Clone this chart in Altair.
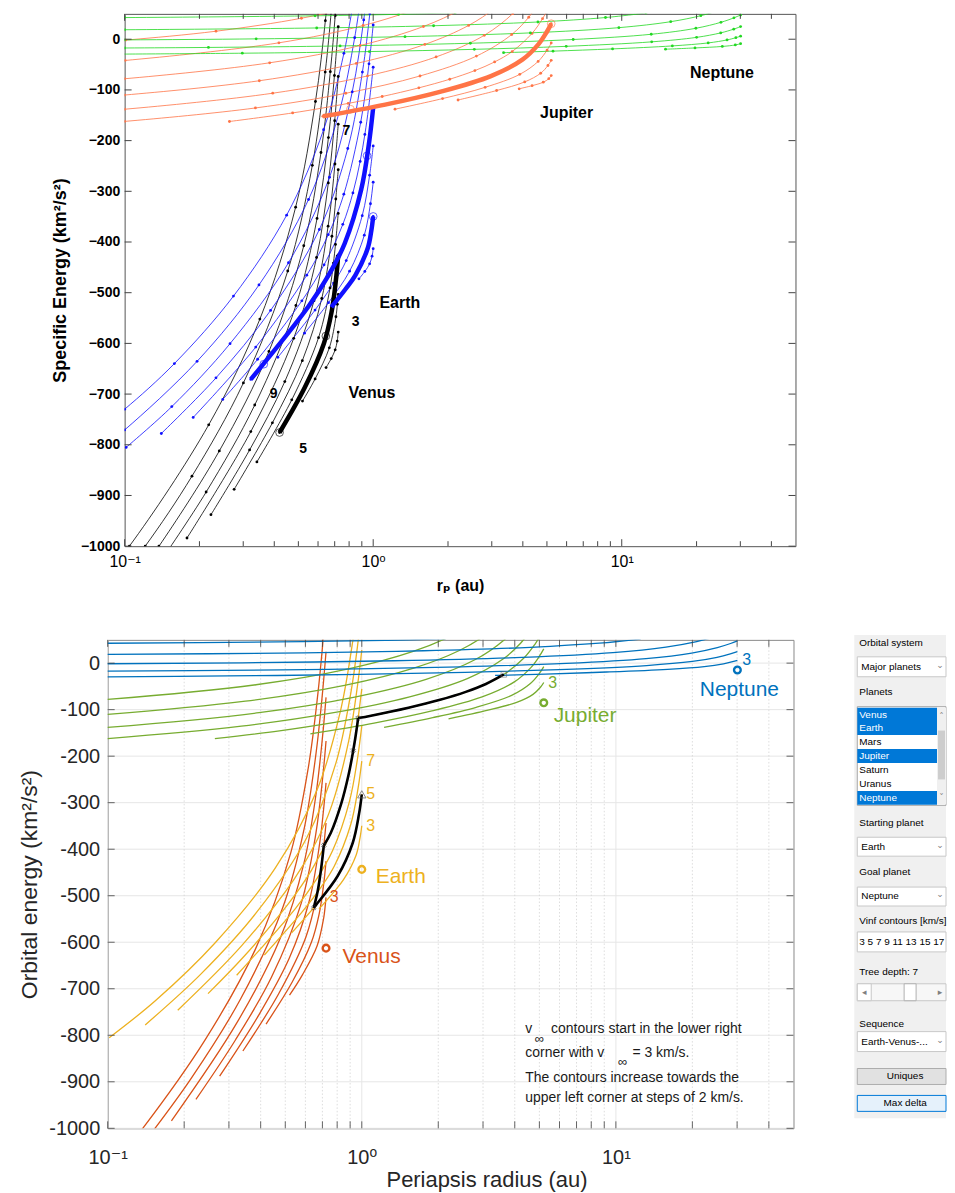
import altair as alt
import pandas as pd

PLANETS = ["Venus", "Earth", "Jupiter", "Neptune"]

# (periapsis radius [au], orbital energy [km^2/s^2]) along each v-infinity contour, keyed by v_inf [km/s]
VENUS = {
    1: [[0.7233, -577.7], [0.7166, -595.5], [0.7032, -612.7], [0.678, -629.9], [0.6462, -647.7]],
    3: [[0.7233, -503.6], [0.7175, -522.8], [0.7083, -547.4], [0.6662, -608.7], [0.584, -670.0], [0.5195, -713.8]],
    5: [[0.7233, -425.6], [0.707, -478.1], [0.6794, -539.4], [0.6329, -600.7], [0.5311, -686.6], [0.4201, -775.8]],
    7: [[0.7233, -343.6], [0.7052, -404.7], [0.692, -441.5], [0.6704, -490.6], [0.6028, -588.7], [0.4703, -711.3], [0.3405, -833.8]],
    9: [[0.7233, -257.5], [0.7072, -315.2], [0.6823, -388.7], [0.6211, -511.4], [0.5187, -634.0], [0.3931, -756.7], [0.2758, -887.9]],
    11: [[0.7233, -167.5], [0.7017, -246.1], [0.6586, -368.7], [0.5779, -515.9], [0.441, -675.3], [0.3182, -810.2], [0.2225, -937.9]],
    13: [[0.7233, -73.5], [0.7, -160.8], [0.6599, -283.4], [0.5919, -430.6], [0.479, -590.0], [0.3218, -774.0], [0.1782, -983.9]],
    15: [[0.7233, 24.6], [0.6984, -71.5], [0.6606, -194.1], [0.5945, -353.5], [0.4888, -525.2], [0.3338, -721.5], [0.2128, -893.2], [0.1413, -1026.0]],
    17: [[0.7233, 126.6], [0.7034, 46.4], [0.6723, -64.0], [0.6165, -223.4], [0.5256, -407.4], [0.3807, -615.9], [0.2404, -812.1], [0.1374, -1000.2], [0.1104, -1064.0]],
    19: [[0.7233, 232.6], [0.7109, 180.5], [0.6788, 57.8], [0.6412, -64.8], [0.5691, -248.8], [0.4532, -457.2], [0.3005, -678.0], [0.1866, -861.9], [0.121, -1000.0], [0.0845, -1098.0]],
    21: [[0.7091, 281.9], [0.6779, 159.2], [0.6421, 36.6], [0.5858, -122.9], [0.4875, -331.3], [0.35, -552.1], [0.2179, -760.6], [0.1045, -1000.0], [0.0699, -1104.0]],
}
EARTH = {
    1: [[1.0, -413.2], [0.9897, -427.9], [0.9676, -443.0], [0.9256, -458.0], [0.8762, -472.7]],
    3: [[1.0, -349.6], [0.9833, -376.9], [0.9505, -412.3], [0.8474, -465.6], [0.7758, -492.2], [0.6788, -528.3]],
    5: [[1.0, -282.0], [0.9751, -324.5], [0.921, -386.6], [0.8036, -457.6], [0.661, -519.6], [0.5295, -579.9]],
    7: [[1.0, -210.5], [0.9675, -268.2], [0.9035, -348.0], [0.779, -436.7], [0.6927, -481.0], [0.5836, -534.2], [0.4136, -627.4]],
    9: [[1.0, -134.9], [0.9603, -207.8], [0.895, -296.5], [0.7679, -402.9], [0.6628, -465.0], [0.5488, -527.1], [0.3218, -671.0]],
    11: [[1.0, -55.3], [0.9587, -134.6], [0.9257, -187.8], [0.8863, -241.0], [0.8289, -303.1], [0.7548, -365.2], [0.6344, -445.0], [0.5164, -516.0], [0.3429, -631.3], [0.2482, -710.5]],
    13: [[1.0, 28.2], [0.9619, -48.5], [0.8908, -163.8], [0.7619, -305.7], [0.6596, -385.6], [0.5405, -465.4], [0.3369, -607.3], [0.1887, -746.1]],
    15: [[1.0, 115.8], [0.9691, 50.4], [0.9049, -64.9], [0.7903, -215.6], [0.6073, -375.3], [0.3866, -534.9], [0.2331, -668.0], [0.1405, -777.7]],
    17: [[0.9713, 144.5], [0.9161, 38.1], [0.8236, -103.8], [0.6671, -272.3], [0.4563, -440.9], [0.2655, -600.5], [0.1548, -724.7], [0.1014, -805.2]],
    19: [[0.9067, 109.6], [0.8425, 3.1], [0.7263, -147.6], [0.5494, -316.2], [0.3471, -484.7], [0.1956, -635.4], [0.1, -770.7], [0.0777, -812.8]],
    21: [[0.8414, 87.5], [0.7624, -27.8], [0.6316, -178.6], [0.4485, -347.1], [0.2741, -506.7], [0.1586, -639.8], [0.1, -729.9], [0.0732, -781.7]],
}
JUPITER = {
    1: [[5.2026, -71.7], [5.087, -77.9], [4.833, -84.8], [4.358, -91.6], [3.867, -97.8]],
    3: [[5.2026, -41.6], [5.048, -51.8], [4.719, -67.1], [4.07, -84.2], [3.138, -101.2], [2.195, -119.9]],
    5: [[5.2026, -7.5], [5.007, -21.6], [4.609, -43.8], [3.888, -69.3], [2.82, -94.9], [1.902, -117.1], [1.224, -138.0]],
    7: [[5.2026, 30.6], [4.993, 14.3], [4.628, -9.6], [3.984, -40.3], [2.975, -72.7], [1.871, -103.4], [1.118, -129.0], [0.6276, -152.1]],
    9: [[5.2026, 72.8], [5.065, 60.9], [4.801, 40.5], [4.356, 11.5], [3.623, -24.3], [3.08, -44.8], [2.566, -61.8], [2.032, -78.9], [1.527, -95.9], [1.087, -113.0], [0.7931, -126.6], [0.4741, -145.4], [0.2641, -162.3]],
    11: [[4.928, 94.6], [4.602, 69.0], [4.225, 43.4], [3.609, 9.3], [2.602, -33.3], [1.543, -72.5], [0.7757, -106.6], [0.3359, -135.6], [0.1, -162.1], [0.0655, -168.3]],
    13: [[4.64, 118.6], [4.185, 84.5], [3.643, 50.4], [2.799, 7.7], [1.791, -34.9], [0.9485, -72.4], [0.3943, -106.5], [0.1, -138.1], [0.0591, -145.7]],
    15: [[3.659, 95.4], [3.087, 61.3], [2.421, 27.2], [1.613, -10.3], [0.8552, -47.8], [0.3483, -81.9], [0.1, -110.1], [0.059, -117.7]],
    17: [[2.876, 93.3], [2.26, 59.2], [1.593, 25.1], [0.886, -12.4], [0.3833, -46.5], [0.1, -78.0], [0.0589, -85.7]],
    19: [[2.119, 95.2], [1.508, 61.1], [0.911, 27.0], [0.4176, -7.1], [0.1004, -41.9], [0.0587, -49.7]],
    21: [[1.431, 101.1], [0.8782, 67.0], [0.5144, 41.4], [0.2331, 15.8], [0.101, -1.7], [0.0586, -9.8]],
}
NEPTUNE = {
    1: [[30.07, -8.8], [28.64, -11.3], [25.39, -14.25], [19.71, -17.2], [15.0, -19.7]],
    3: [[30.07, 6.05], [28.78, 3.03], [26.52, -1.4], [22.27, -7.3], [15.98, -13.2], [9.183, -19.1], [5.29, -23.5], [3.346, -26.5]],
    5: [[30.07, 24.9], [28.21, 19.9], [25.01, 12.5], [20.0, 3.66], [13.2, -5.19], [5.978, -14.04], [2.552, -19.94], [0.9653, -24.37], [0.2975, -27.6], [0.0946, -29.4]],
    7: [[30.07, 47.8], [28.27, 42.2], [25.07, 33.4], [19.87, 21.6], [13.14, 9.76], [6.378, -0.56], [2.46, -7.94], [0.7358, -13.25], [0.2174, -16.2], [0.1, -17.3], [0.0542, -17.97]],
    9: [[24.06, 55.3], [20.8, 46.4], [15.74, 34.6], [9.738, 22.8], [4.289, 12.5], [1.343, 5.12], [0.3382, 0.7], [0.1, -1.3], [0.0376, -2.25]],
    11: [[12.52, 51.7], [8.604, 42.8], [4.601, 34.0], [1.75, 26.6], [0.5926, 22.2], [0.1, 18.7], [0.0376, 17.8]],
    13: [[2.137, 52.1], [1.265, 49.1], [0.5837, 46.2], [0.1, 42.7], [0.0376, 41.8]],
}
TABLES = {"Venus": VENUS, "Earth": EARTH, "Jupiter": JUPITER, "Neptune": NEPTUNE}

TOP_VINF = [1, 3, 5, 7, 9, 11, 13, 15, 17, 19, 21]
BOTTOM_VINF = [3, 5, 7, 9, 11, 13, 15, 17]

TOP_COLORS = ["#000000", "#1010ff", "#ff7446", "#22d822"]
BOTTOM_COLORS = ["#d95319", "#edb120", "#77ac30", "#0072bd"]

# top panel: highlighted contours and markers
TOP_HIGHLIGHT = [("Venus", 5), ("Earth", 3), ("Earth", 9), ("Jupiter", 7)]
TOP_RING_PLANET = ["Venus", "Venus", "Earth", "Earth", "Earth", "Jupiter", "Jupiter"]
TOP_RING_RP = [0.4201, 0.645, 1.0, 0.945, 0.363, 5.2026, 0.81]
TOP_RING_E = [-775.8, -585.5, -349.6, -230.0, -641.0, 30.6, -138.0]
TOP_NUM_TEXT = ["7", "3", "9", "5"]
TOP_NUM_RP = [0.78, 0.85, 0.398, 0.522]
TOP_NUM_E = [-181, -558, -700, -808]
TOP_NAME_TEXT = ["Earth", "Venus", "Jupiter", "Neptune"]
TOP_NAME_RP = [1.28, 0.988, 6.0, 25.3]
TOP_NAME_E = [-521, -697, -145, -67]

# bottom panel: trajectory legs, markers and labels
PATH_LEGS = {
    "Earth v5": [[1.0, -282.0], [0.9751, -324.5], [0.921, -386.6], [0.8036, -457.6], [0.661, -519.6], [0.647, -526.0]],
    "Venus v7": [[0.647, -526.0], [0.6704, -490.6], [0.692, -441.5], [0.709, -392.0]],
    "Earth v11": [[0.709, -392.0], [0.7548, -365.2], [0.8289, -303.1], [0.8863, -241.0], [0.9257, -187.8], [0.9587, -134.6], [0.967, -118.1]],
    "Jupiter v9": [[0.967, -118.1], [1.087, -113.0], [1.527, -95.9], [2.032, -78.9], [2.566, -61.8], [3.08, -44.8], [3.623, -24.3]],
}
PATH_X_RP = [0.647, 0.709, 0.9257, 0.967]
PATH_X_E = [-526.0, -392.0, -187.8, -118.1]
PATH_START = [1.0, -282.0]
PATH_END = [3.623, -24.3]
PLANET_RP = [0.7233, 1.0, 5.2026, 30.07]
PLANET_E = [-612.7, -443.4, -85.3, -14.75]
NAME_RP = [0.84, 1.135, 5.69, 21.4]
NAME_E = [-631, -460, -114, -57]
NUM_PLANET = ["Venus", "Earth", "Earth", "Earth", "Jupiter", "Neptune"]
NUM_TEXT = ["3", "7", "5", "3", "3", "3"]
NUM_RP = [0.778, 1.085, 1.085, 1.085, 5.64, 32.7]
NUM_E = [-503, -211, -282, -350, -42, 7]
NOTE_LEFT_TEXT = ["v", "contours start in the lower right", "corner with v", "= 3 km/s.",
                  "The contours increase towards the", "upper left corner at steps of 2 km/s."]
NOTE_LEFT_RP = [4.4, 5.56, 4.4, 11.62, 4.4, 4.4]
NOTE_LEFT_E = [-786, -786, -839, -839, -892, -935]
NOTE_INF_RP = [5.0, 10.63]
NOTE_INF_E = [-807, -858]

MAJOR_X = [0.1, 1, 10]
MINOR_X = [0.2, 0.3, 0.4, 0.5, 0.6, 0.7, 0.8, 0.9, 2, 3, 4, 5, 6, 7, 8, 9, 20, 30, 40]
Y_TICKS = [-1000, -900, -800, -700, -600, -500, -400, -300, -200, -100, 0]

FONT = "Liberation Sans, DejaVu Sans"


def contour_rows(vinfs, field):
    rows = []
    for planet in PLANETS:
        for v in vinfs:
            for i, (rp, e) in enumerate(TABLES[planet].get(v, [])):
                rows.append({field: planet, "key": f"{planet}{v}", "order": i, "rp": rp, "E": e})
    return pd.DataFrame(rows)


XS = alt.Scale(type="log", domain=[0.1, 50], nice=False)
YS = alt.Scale(domain=[-1000, 50], nice=False, zero=False)
LABEL_EXPR = "datum.value < 0.5 ? '10⁻¹' : (datum.value < 5 ? '10⁰' : '10¹')"


def tick_layers(X, Y, W, H, color, major_len, minor_len, width):
    layers = []
    for vals, ln in [(MAJOR_X, major_len), (MINOR_X, minor_len)]:
        d = alt.Chart(pd.DataFrame({"rp": vals}))
        layers.append(d.mark_rule(color=color, strokeWidth=width).encode(
            x=X, y=alt.value(H), y2=alt.value(H - ln)))
        layers.append(d.mark_rule(color=color, strokeWidth=width).encode(
            x=X, y=alt.value(0), y2=alt.value(ln)))
    d = alt.Chart(pd.DataFrame({"E": Y_TICKS}))
    layers.append(d.mark_rule(color=color, strokeWidth=width).encode(
        y=Y, x=alt.value(0), x2=alt.value(major_len)))
    layers.append(d.mark_rule(color=color, strokeWidth=width).encode(
        y=Y, x=alt.value(W - major_len), x2=alt.value(W)))
    return layers


def spacer(w):
    return alt.Chart(pd.DataFrame({"s": [0]})).mark_point(size=1, opacity=0).encode(
        x=alt.value(0), y=alt.value(0)
    ).properties(width=w, height=4, view=alt.ViewBackground(stroke=None))


# ---------------- top panel ----------------
TW, TH = 673, 534
top_xaxis = alt.Axis(values=MAJOR_X, labelExpr=LABEL_EXPR, ticks=False, domain=False, grid=False,
                     labelFlush=False, labelFont=FONT, labelFontSize=16, labelColor="#000", labelPadding=7,
                     title="rₚ (au)", titleFont=FONT, titleFontSize=16, titleFontWeight="bold",
                     titleColor="#000", titlePadding=8)
top_yaxis = alt.Axis(values=Y_TICKS, format="d", ticks=False, domain=False, grid=False,
                     labelFont=FONT, labelFontSize=14, labelFontWeight="bold", labelColor="#000",
                     labelPadding=5, title="Specific Energy (km²/s²)", titleFont=FONT,
                     titleFontSize=18, titleFontWeight="bold", titleColor="#000", titlePadding=11)
TX = alt.X("rp:Q", scale=XS, axis=top_xaxis)
TY = alt.Y("E:Q", scale=YS, axis=top_yaxis)
top_color = alt.Color("planet:N", scale=alt.Scale(domain=PLANETS, range=TOP_COLORS), legend=None)

top_df = contour_rows(TOP_VINF, "planet")
top_base = alt.Chart(top_df).encode(x=TX, y=TY, detail="key:N", order="order:Q", color=top_color)
top_thin = top_base.mark_line(strokeWidth=0.8, interpolate="catmull-rom", clip=True)
top_dots = top_base.mark_circle(size=8, opacity=1, clip=True)

hl_rows = []
for planet, v in TOP_HIGHLIGHT:
    for i, (rp, e) in enumerate(TABLES[planet][v]):
        hl_rows.append({"planet": planet, "key": f"{planet}{v}", "order": i, "rp": rp, "E": e})
top_thick = alt.Chart(pd.DataFrame(hl_rows)).mark_line(
    strokeWidth=4.5, interpolate="catmull-rom", clip=True
).encode(x=TX, y=TY, detail="key:N", order="order:Q", color=top_color)

top_rings = alt.Chart(pd.DataFrame({"planet": TOP_RING_PLANET, "rp": TOP_RING_RP, "E": TOP_RING_E})).mark_point(
    shape="circle", filled=False, size=60, strokeWidth=0.8, opacity=0.8
).encode(x=TX, y=TY, color=top_color)

top_nums = alt.Chart(pd.DataFrame({"t": TOP_NUM_TEXT, "rp": TOP_NUM_RP, "E": TOP_NUM_E})).mark_text(
    font=FONT, fontSize=14, fontWeight="bold", color="#000"
).encode(x=TX, y=TY, text="t:N")
top_names = alt.Chart(pd.DataFrame({"t": TOP_NAME_TEXT, "rp": TOP_NAME_RP, "E": TOP_NAME_E})).mark_text(
    font=FONT, fontSize=16, fontWeight="bold", color="#000"
).encode(x=TX, y=TY, text="t:N")

top_chart = alt.layer(
    top_thin, top_dots, top_thick, top_rings, top_nums, top_names,
    *tick_layers(TX, TY, TW, TH, "#444", 7, 5, 1)
).properties(width=TW, height=TH, view=alt.ViewBackground(stroke="#555", strokeWidth=1))

# ---------------- bottom panel ----------------
BW, BH = 688, 490
bot_xaxis = alt.Axis(values=MAJOR_X, labelExpr=LABEL_EXPR, ticks=False, domain=False, grid=False,
                     labelFlush=False, labelFont=FONT, labelFontSize=20, labelColor="#262626", labelPadding=19,
                     title="Periapsis radius (au)", titleFont=FONT, titleFontSize=22,
                     titleFontWeight="normal", titleColor="#262626", titlePadding=2, titleX=380)
bot_yaxis = alt.Axis(values=Y_TICKS, labelExpr="'' + datum.value", ticks=False, domain=False, grid=False,
                     labelFont=FONT, labelFontSize=20, labelColor="#262626", labelPadding=8,
                     title="Orbital energy (km²/s²)", titleFont=FONT, titleFontSize=23,
                     titleFontWeight="normal", titleColor="#262626", titlePadding=7)
BX = alt.X("rp:Q", scale=XS, axis=bot_xaxis)
BY = alt.Y("E:Q", scale=YS, axis=bot_yaxis)
bot_color = alt.Color("body:N", scale=alt.Scale(domain=PLANETS, range=BOTTOM_COLORS), legend=None)

grid_h = alt.Chart(pd.DataFrame({"E": Y_TICKS})).mark_rule(color="#e6e6e6", strokeWidth=1).encode(
    y=BY, x=alt.value(0), x2=alt.value(BW))
grid_vmaj = alt.Chart(pd.DataFrame({"rp": MAJOR_X})).mark_rule(color="#e6e6e6", strokeWidth=1).encode(
    x=BX, y=alt.value(0), y2=alt.value(BH))
grid_vmin = alt.Chart(pd.DataFrame({"rp": MINOR_X})).mark_rule(
    color="#d4d4d4", strokeWidth=0.8, strokeDash=[1.5, 2]).encode(x=BX, y=alt.value(0), y2=alt.value(BH))

bot_df = contour_rows(BOTTOM_VINF, "body")
bot_lines = alt.Chart(bot_df).mark_line(strokeWidth=1.3, interpolate="catmull-rom", clip=True).encode(
    x=BX, y=BY, detail="key:N", order="order:Q", color=bot_color)

path_rows = []
for leg, pts in PATH_LEGS.items():
    for i, (rp, e) in enumerate(pts):
        path_rows.append({"leg": leg, "order": i, "rp": rp, "E": e})
bot_path = alt.Chart(pd.DataFrame(path_rows)).mark_line(
    strokeWidth=2.6, color="#000", interpolate="catmull-rom", clip=True
).encode(x=BX, y=BY, detail="leg:N", order="order:Q")
path_x = alt.Chart(pd.DataFrame({"rp": PATH_X_RP, "E": PATH_X_E})).mark_point(
    shape="cross", angle=45, size=22, filled=False, color="#333", strokeWidth=0.8
).encode(x=BX, y=BY)
path_start = alt.Chart(pd.DataFrame({"rp": [PATH_START[0]], "E": [PATH_START[1]]})).mark_point(
    shape="triangle-up", size=70, filled=False, color="#555", strokeWidth=1
).encode(x=BX, y=BY)
path_end = alt.Chart(pd.DataFrame({"rp": [PATH_END[0]], "E": [PATH_END[1]]})).mark_point(
    shape="square", size=30, filled=False, color="#666", strokeWidth=0.8
).encode(x=BX, y=BY)

planet_pts = alt.Chart(pd.DataFrame({"body": PLANETS, "rp": PLANET_RP, "E": PLANET_E})).mark_point(
    shape="circle", filled=False, size=45, strokeWidth=2.4, opacity=1
).encode(x=BX, y=BY, color=bot_color)
planet_names = alt.Chart(pd.DataFrame({"body": PLANETS, "rp": NAME_RP, "E": NAME_E})).mark_text(
    font=FONT, fontSize=21, align="left", baseline="middle"
).encode(x=BX, y=BY, text="body:N", color=bot_color)
contour_nums = alt.Chart(pd.DataFrame({"body": NUM_PLANET, "t": NUM_TEXT, "rp": NUM_RP, "E": NUM_E})).mark_text(
    font=FONT, fontSize=16, align="center", baseline="middle"
).encode(x=BX, y=BY, text="t:N", color=bot_color)

note = alt.Chart(pd.DataFrame({"t": NOTE_LEFT_TEXT, "rp": NOTE_LEFT_RP, "E": NOTE_LEFT_E})).mark_text(
    font=FONT, fontSize=14, align="left", baseline="middle", color="#1a1a1a"
).encode(x=BX, y=BY, text="t:N")
note_inf = alt.Chart(pd.DataFrame({"t": ["∞", "∞"], "rp": NOTE_INF_RP, "E": NOTE_INF_E})).mark_text(
    font=FONT, fontSize=13, align="center", baseline="middle", color="#1a1a1a"
).encode(x=BX, y=BY, text="t:N")

bottom_chart = alt.layer(
    grid_h, grid_vmaj, grid_vmin, bot_lines, bot_path, path_x, path_start, path_end,
    planet_pts, planet_names, contour_nums, note, note_inf,
    *tick_layers(BX, BY, BW, BH, "#404040", 7, 7, 0.8)
).properties(width=BW, height=BH, view=alt.ViewBackground(stroke="#8a8a8a", strokeWidth=1))

# ---------------- side panel (GUI controls) ----------------
SB_X0, SB_X1, SB_Y0, SB_Y1 = 855, 947, 640, 1120
SBX = alt.Scale(domain=[SB_X0, SB_X1], nice=False, zero=False)
SBY = alt.Scale(domain=[SB_Y0, SB_Y1], nice=False, zero=False, reverse=True)

BOX_X0 = [855, 858, 858, 858, 858, 858, 858, 938, 939, 858, 858, 858, 858, 858, 905, 858, 858, 858]
BOX_X1 = [947, 947, 947, 938, 938, 938, 938, 947, 946, 947, 947, 947, 947, 872, 917, 947, 947, 947]
BOX_Y0 = [635, 657, 707, 708, 721.5, 749.5, 791.5, 708, 731, 838, 888, 933, 985, 985, 985, 1033, 1070, 1097]
BOX_Y1 = [1120, 677, 806, 721.5, 735.5, 763.5, 805.5, 805, 780, 857, 907, 953, 1002, 1002, 1002, 1053, 1086, 1113]
BOX_FILL = ["#f0f0f0", "#ffffff", "#ffffff", "#0078d7", "#0078d7", "#0078d7", "#0078d7", "#f0f0f0", "#cdcdcd",
            "#ffffff", "#ffffff", "#ffffff", "#f7f7f7", "#ffffff", "#ffffff", "#ffffff", "#e1e1e1", "#e5f1fb"]
BOX_STROKE = ["transparent", "#c8c8c8", "#a8a8a8", "transparent", "transparent", "transparent", "transparent",
              "transparent", "transparent", "#c8c8c8", "#c8c8c8", "#c8c8c8", "#c8c8c8", "#c8c8c8", "#b0b0b0",
              "#c8c8c8", "#adadad", "#0078d7"]

SB_TEXT = ["Orbital system", "Major planets", "Planets", "Venus", "Earth", "Mars", "Jupiter", "Saturn",
           "Uranus", "Neptune", "Starting planet", "Earth", "Goal planet", "Neptune", "Vinf contours [km/s]",
           "3 5 7 9 11 13 15 17", "Tree depth:  7", "Sequence", "Earth-Venus-..."]
SB_TEXT_X = [860, 862, 860, 860, 860, 860, 860, 860, 860, 860, 860, 862, 860, 862, 860, 860, 860, 860, 862]
SB_TEXT_Y = [643.5, 667, 692.7, 715, 728.7, 742.7, 756.7, 771, 784.7, 799, 824, 848, 873.3, 897, 921.7,
             943, 972.7, 1025, 1043]
SB_TEXT_COLOR = ["#000", "#000", "#000", "#fff", "#fff", "#000", "#fff", "#000", "#000", "#fff", "#000",
                 "#000", "#000", "#000", "#000", "#000", "#000", "#000", "#000"]
SB_BTN_TEXT = ["Uniques", "Max delta"]
SB_BTN_X = [906, 906]
SB_BTN_Y = [1078, 1105]
SB_GLYPH = ["⌄", "⌄", "⌄", "⌄", "˄", "˅", "◂", "▸"]
SB_GLYPH_X = [941, 941, 941, 941, 942.5, 942.5, 865, 941]
SB_GLYPH_Y = [665, 846, 895, 1041, 716, 798, 993.5, 993.5]

sb_boxes = alt.Chart(pd.DataFrame({"x0": BOX_X0, "x1": BOX_X1, "y0": BOX_Y0, "y1": BOX_Y1,
                                   "f": BOX_FILL, "s": BOX_STROKE})).mark_rect(strokeWidth=1).encode(
    x=alt.X("x0:Q", scale=SBX, axis=None), x2="x1:Q",
    y=alt.Y("y0:Q", scale=SBY, axis=None), y2="y1:Q",
    fill=alt.Fill("f:N", scale=None), stroke=alt.Stroke("s:N", scale=None))
sb_text = alt.Chart(pd.DataFrame({"t": SB_TEXT, "x": SB_TEXT_X, "y": SB_TEXT_Y, "c": SB_TEXT_COLOR})).mark_text(
    font=FONT, fontSize=10, align="left", baseline="middle"
).encode(x=alt.X("x:Q", scale=SBX, axis=None), y=alt.Y("y:Q", scale=SBY, axis=None),
         text="t:N", color=alt.Color("c:N", scale=None))
sb_btn = alt.Chart(pd.DataFrame({"t": SB_BTN_TEXT, "x": SB_BTN_X, "y": SB_BTN_Y})).mark_text(
    font=FONT, fontSize=10, align="center", baseline="middle", color="#000"
).encode(x=alt.X("x:Q", scale=SBX, axis=None), y=alt.Y("y:Q", scale=SBY, axis=None), text="t:N")
sb_glyph = alt.Chart(pd.DataFrame({"t": SB_GLYPH, "x": SB_GLYPH_X, "y": SB_GLYPH_Y})).mark_text(
    font="DejaVu Sans", fontSize=9, align="center", baseline="middle", color="#808080"
).encode(x=alt.X("x:Q", scale=SBX, axis=None), y=alt.Y("y:Q", scale=SBY, axis=None), text="t:N")

sidebar = alt.layer(sb_boxes, sb_text, sb_btn, sb_glyph).properties(
    width=SB_X1 - SB_X0, height=SB_Y1 - SB_Y0, view=alt.ViewBackground(stroke=None))

top_row = alt.hconcat(spacer(34), top_chart, spacing=0)
bottom_row = alt.hconcat(spacer(1), alt.hconcat(bottom_chart, sidebar, spacing=59), spacing=0)

chart = alt.vconcat(top_row, bottom_row, spacing=40).properties(
    padding={"left": 8, "top": 3, "right": 0, "bottom": 0}
).resolve_scale(color="independent").configure_view(stroke=None).configure(background="white")

chart.save("out.html", embed_options={"renderer": "svg", "actions": False})
